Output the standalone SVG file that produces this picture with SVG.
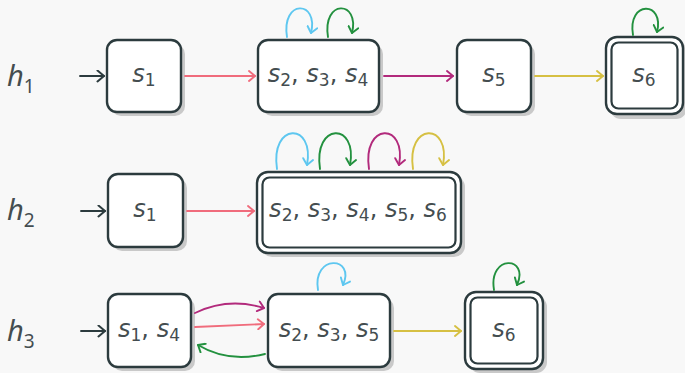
<svg xmlns="http://www.w3.org/2000/svg" width="685" height="373" viewBox="0 0 685 373">
<defs>
<style>
.bg{fill:#f8f8f8}
.shadow{fill:#c9c9c9}
.node{fill:#ffffff;stroke:#2c3b3e;stroke-width:2.4}
.inner{fill:none;stroke:#2c3b3e;stroke-width:2.2}
.lbl{font-family:"DejaVu Sans","Noto Sans",sans-serif;font-size:24px;fill:#444d50;text-anchor:middle}
.s{font-style:italic}
.h{font-family:"Noto Sans","Open Sans",sans-serif;font-size:29px;fill:#444d50}
.e{fill:none;stroke-width:1.9;stroke-linecap:round}
.k{stroke:#2c3b3e}.pink{stroke:#f06c7c}.pur{stroke:#b22a7c}.yel{stroke:#d6c043}.blu{stroke:#5ec7f0}.grn{stroke:#23913f}
</style>
<marker id="ak" viewBox="0 0 12 12" refX="10" refY="6" markerWidth="13" markerHeight="13" markerUnits="userSpaceOnUse" orient="auto"><path d="M4,1 L10,6 L4,11" fill="none" stroke="#2c3b3e" stroke-width="1.9" stroke-linecap="round" stroke-linejoin="round"/></marker>
<marker id="ap" viewBox="0 0 12 12" refX="10" refY="6" markerWidth="12" markerHeight="12" markerUnits="userSpaceOnUse" orient="auto"><path d="M4,1 L10,6 L4,11" fill="none" stroke="#f06c7c" stroke-width="1.9" stroke-linecap="round" stroke-linejoin="round"/></marker>
<marker id="au" viewBox="0 0 12 12" refX="10" refY="6" markerWidth="12" markerHeight="12" markerUnits="userSpaceOnUse" orient="auto"><path d="M4,1 L10,6 L4,11" fill="none" stroke="#b22a7c" stroke-width="1.9" stroke-linecap="round" stroke-linejoin="round"/></marker>
<marker id="ay" viewBox="0 0 12 12" refX="10" refY="6" markerWidth="12" markerHeight="12" markerUnits="userSpaceOnUse" orient="auto"><path d="M4,1 L10,6 L4,11" fill="none" stroke="#d6c043" stroke-width="1.9" stroke-linecap="round" stroke-linejoin="round"/></marker>
<marker id="ab" viewBox="0 0 12 12" refX="10" refY="6" markerWidth="12" markerHeight="12" markerUnits="userSpaceOnUse" orient="auto"><path d="M4,1 L10,6 L4,11" fill="none" stroke="#5ec7f0" stroke-width="1.9" stroke-linecap="round" stroke-linejoin="round"/></marker>
<marker id="ag" viewBox="0 0 12 12" refX="10" refY="6" markerWidth="12" markerHeight="12" markerUnits="userSpaceOnUse" orient="auto"><path d="M4,1 L10,6 L4,11" fill="none" stroke="#23913f" stroke-width="1.9" stroke-linecap="round" stroke-linejoin="round"/></marker>
</defs>
<rect class="bg" x="0" y="0" width="685" height="373"/>

<g id="labels">
<text class="h" x="7" y="86"><tspan font-style="italic">h</tspan><tspan font-size="19" dy="7">1</tspan></text>
<text class="h" x="7" y="220"><tspan font-style="italic">h</tspan><tspan font-size="19" dy="7">2</tspan></text>
<text class="h" x="7" y="341"><tspan font-style="italic">h</tspan><tspan font-size="19" dy="7">3</tspan></text>
</g>

<g id="r1-s1">
<rect class="shadow" x="111" y="44" width="74" height="72" rx="10"/>
<rect class="node" x="107" y="40" width="74" height="72" rx="10"/>
<text class="lbl" x="144" y="82"><tspan class="s">s</tspan><tspan font-size="17" dy="4">1</tspan></text>
</g>
<g id="r1-s234">
<rect class="shadow" x="262" y="44" width="121" height="72" rx="10"/>
<rect class="node" x="258" y="40" width="121" height="72" rx="10"/>
<text class="lbl" x="318" y="82"><tspan class="s">s</tspan><tspan font-size="17" dy="4">2</tspan><tspan dy="-4">, </tspan><tspan class="s">s</tspan><tspan font-size="17" dy="4">3</tspan><tspan dy="-4">, </tspan><tspan class="s">s</tspan><tspan font-size="17" dy="4">4</tspan></text>
</g>
<g id="r1-s5">
<rect class="shadow" x="461" y="44" width="74" height="72" rx="10"/>
<rect class="node" x="457" y="40" width="74" height="72" rx="10"/>
<text class="lbl" x="494" y="82"><tspan class="s">s</tspan><tspan font-size="17" dy="4">5</tspan></text>
</g>
<g id="r1-s6">
<rect class="shadow" x="610" y="41" width="77" height="78" rx="11"/>
<rect class="node" x="606" y="37" width="77" height="77" rx="11"/>
<rect class="inner" x="611.5" y="42.5" width="66" height="66" rx="7"/>
<text class="lbl" x="644" y="82"><tspan class="s">s</tspan><tspan font-size="17" dy="4">6</tspan></text>
</g>

<g id="r2-s1">
<rect class="shadow" x="112" y="178" width="75" height="73" rx="10"/>
<rect class="node" x="108" y="174" width="75" height="73" rx="10"/>
<text class="lbl" x="145" y="217"><tspan class="s">s</tspan><tspan font-size="17" dy="4">1</tspan></text>
</g>
<g id="r2-s23456">
<rect class="shadow" x="261" y="176" width="204" height="81" rx="11"/>
<rect class="node" x="257" y="172" width="204" height="81" rx="11"/>
<rect class="inner" x="262.5" y="177.5" width="193" height="70" rx="7"/>
<text class="lbl" x="358" y="217"><tspan class="s">s</tspan><tspan font-size="17" dy="4">2</tspan><tspan dy="-4">, </tspan><tspan class="s">s</tspan><tspan font-size="17" dy="4">3</tspan><tspan dy="-4">, </tspan><tspan class="s">s</tspan><tspan font-size="17" dy="4">4</tspan><tspan dy="-4">, </tspan><tspan class="s">s</tspan><tspan font-size="17" dy="4">5</tspan><tspan dy="-4">, </tspan><tspan class="s">s</tspan><tspan font-size="17" dy="4">6</tspan></text>
</g>

<g id="r3-s14">
<rect class="shadow" x="112" y="298" width="83" height="73" rx="10"/>
<rect class="node" x="108" y="294" width="83" height="73" rx="10"/>
<text class="lbl" x="149" y="337"><tspan class="s">s</tspan><tspan font-size="17" dy="4">1</tspan><tspan dy="-4">, </tspan><tspan class="s">s</tspan><tspan font-size="17" dy="4">4</tspan></text>
</g>
<g id="r3-s235">
<rect class="shadow" x="272" y="298" width="122" height="73" rx="10"/>
<rect class="node" x="268" y="294" width="122" height="73" rx="10"/>
<text class="lbl" x="329" y="337"><tspan class="s">s</tspan><tspan font-size="17" dy="4">2</tspan><tspan dy="-4">, </tspan><tspan class="s">s</tspan><tspan font-size="17" dy="4">3</tspan><tspan dy="-4">, </tspan><tspan class="s">s</tspan><tspan font-size="17" dy="4">5</tspan></text>
</g>
<g id="r3-s6">
<rect class="shadow" x="469" y="296" width="78" height="77" rx="11"/>
<rect class="node" x="465" y="292" width="78" height="77" rx="11"/>
<rect class="inner" x="470.5" y="297.5" width="67" height="66" rx="7"/>
<text class="lbl" x="504" y="337"><tspan class="s">s</tspan><tspan font-size="17" dy="4">6</tspan></text>
</g>

<g id="connectors">
<path class="e k" d="M80,76 L104,76" marker-end="url(#ak)"/>
<path class="e k" d="M81,211 L105,211" marker-end="url(#ak)"/>
<path class="e k" d="M81,331 L105,331" marker-end="url(#ak)"/>

<path class="e pink" d="M185,76 L255,76" marker-end="url(#ap)"/>
<path class="e pur" d="M384,76 L453,76" marker-end="url(#au)"/>
<path class="e yel" d="M535,76 L603,76" marker-end="url(#ay)"/>
<path class="e blu" d="M287,37 C281,-1 319,0 311,33" marker-end="url(#ab)"/>
<path class="e grn" d="M328,37 C322,-1 360,0 352,33" marker-end="url(#ag)"/>
<path class="e grn" d="M633,35 C627,0 665,1 657,32" marker-end="url(#ag)"/>

<path class="e pink" d="M187,211 L254,211" marker-end="url(#ap)"/>
<path class="e blu" d="M277,169 C270,122 315,122 307,165" marker-end="url(#ab)"/>
<path class="e grn" d="M320,169 C313,122 358,122 350,165" marker-end="url(#ag)"/>
<path class="e pur" d="M369,169 C362,122 407,122 399,165" marker-end="url(#au)"/>
<path class="e yel" d="M413,169 C406,122 451,122 443,165" marker-end="url(#ay)"/>

<path class="e pur" d="M195,313 Q228,297 264,308" marker-end="url(#au)"/>
<path class="e pink" d="M195,327 L264,324" marker-end="url(#ap)"/>
<path class="e grn" d="M265,354 Q228,363 198,345" marker-end="url(#ag)"/>
<path class="e blu" d="M318,290 C312,254 356,256 343,285" marker-end="url(#ab)"/>
<path class="e yel" d="M394,331 L461,331" marker-end="url(#ay)"/>
<path class="e grn" d="M494,290 C488,254 530,256 517,285" marker-end="url(#ag)"/>
</g>
</svg>
